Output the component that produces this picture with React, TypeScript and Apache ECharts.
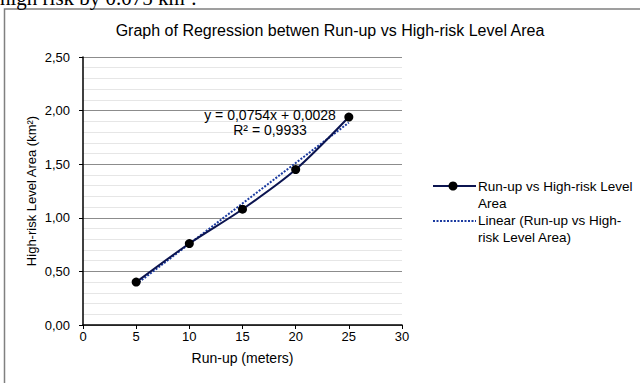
import React, { useEffect, useRef } from "react";
import * as echarts from "echarts";

const runUp = [5, 10, 15, 20, 25];
const area = [0.4, 0.76, 1.08, 1.45, 1.94];
const trendX = [5, 25];
const trendY = [0.38, 1.888];
const yTicks = ["0,00", "0,50", "1,00", "1,50", "2,00", "2,50"];
const titleText = "Graph of Regression betwen Run-up vs High-risk Level Area";
const eqText = "y = 0,0754x + 0,0028";
const r2Text = "R² = 0,9933";
const seriesName = "Run-up vs High-risk Level Area";
const trendName = "Linear (Run-up vs High-risk Level Area)";
const legendLines1 = ["Run-up vs High-risk Level", "Area"];
const legendLines2 = ["Linear (Run-up vs High-", "risk Level Area)"];

export default function App() {
  const ref = useRef<HTMLDivElement>(null);
  useEffect(() => {
    if (!ref.current) return;
    const chart = echarts.init(ref.current, undefined, { renderer: "svg" });
    const font = "Liberation Sans, Arial, sans-serif";
    const navy = "#0b1450";
    const trendColor = "#1a3aa0";
    chart.setOption({
      animation: false,
      backgroundColor: "#ffffff",
      textStyle: { fontFamily: font },
      grid: { left: 83, right: 238, top: 57, bottom: 58, containLabel: false },
      xAxis: {
        type: "value",
        min: 0,
        max: 30,
        interval: 5,
        name: "Run-up (meters)",
        nameLocation: "middle",
        nameGap: 26,
        nameTextStyle: { fontSize: 14, color: "#000", fontFamily: font },
        axisLine: { lineStyle: { color: "#000", width: 1.5 } },
        axisTick: { show: true, inside: false, length: 4, lineStyle: { color: "#000" } },
        axisLabel: { color: "#000", fontSize: 13, margin: 5, fontFamily: font },
        splitLine: { show: false },
      },
      yAxis: {
        type: "value",
        min: 0,
        max: 2.5,
        interval: 0.5,
        name: "High-risk Level Area (km²)",
        nameLocation: "middle",
        nameGap: 45,
        nameRotate: 90,
        nameTextStyle: { fontSize: 13, color: "#000", fontFamily: font },
        axisLine: { show: true, lineStyle: { color: "#000", width: 1.5 } },
        axisTick: { show: true, inside: false, length: 4, lineStyle: { color: "#000" } },
        axisLabel: {
          color: "#000",
          fontSize: 13,
          margin: 13,
          fontFamily: font,
          formatter: (v: number) => yTicks[Math.round(v / 0.5)] ?? "",
        },
        splitLine: { show: true, lineStyle: { color: "#8c8c8c", width: 1 } },
        minorTick: { show: false, splitNumber: 5 },
        minorSplitLine: { show: true, lineStyle: { color: "#e6e6e6", width: 1 } },
      },
      title: {
        text: titleText,
        left: 325,
        textAlign: "center",
        top: 17,
        textStyle: { fontSize: 16, fontWeight: "normal", color: "#000", fontFamily: font },
      },
      graphic: [
        {
          type: "rect",
          shape: { x: 4.5, y: 9, width: 700, height: 400 },
          style: { fill: "none", stroke: "#808080", lineWidth: 1.5 },
          silent: true,
        },
        {
          type: "text",
          left: 0,
          top: -13,
          style: {
            text: "high risk by 0.075 km².",
            font: "21px 'Liberation Serif', 'Times New Roman', serif",
            fill: "#000",
          },
        },
        {
          type: "text",
          x: 270,
          y: 107,
          style: {
            text: eqText + "\n" + r2Text,
            align: "center",
            verticalAlign: "top",
            fontSize: 14,
            lineHeight: 15,
            fontFamily: font,
            fill: "#000",
          },
          z: 10,
        },
        {
          type: "line",
          shape: { x1: 433, y1: 186, x2: 476, y2: 186 },
          style: { stroke: navy, lineWidth: 2 },
        },
        {
          type: "circle",
          shape: { cx: 453, cy: 186, r: 4.5 },
          style: { fill: "#000" },
        },
        {
          type: "text",
          x: 478,
          y: 186,
          style: {
            text: legendLines1.join("\n"),
            verticalAlign: "top",
            fontSize: 13.5,
            lineHeight: 17,
            fontFamily: font,
            fill: "#000",
          },
          y: 178,
        },
        {
          type: "line",
          shape: { x1: 433, y1: 221, x2: 476, y2: 221 },
          style: { stroke: trendColor, lineWidth: 2, lineDash: [2, 1.5] },
        },
        {
          type: "text",
          x: 478,
          y: 212,
          style: {
            text: legendLines2.join("\n"),
            verticalAlign: "top",
            fontSize: 13.5,
            lineHeight: 17,
            fontFamily: font,
            fill: "#000",
          },
        },
      ],
      series: [
        {
          name: trendName,
          type: "line",
          data: trendX.map((x, i) => [x, trendY[i]]),
          showSymbol: false,
          symbol: "none",
          lineStyle: { color: trendColor, width: 2, type: [2, 1.5] },
          itemStyle: { color: trendColor },
          z: 3,
        },
        {
          name: seriesName,
          type: "line",
          data: runUp.map((x, i) => [x, area[i]]),
          smooth: 0.3,
          symbol: "circle",
          symbolSize: 9,
          lineStyle: { color: navy, width: 2 },
          itemStyle: { color: "#000" },
          z: 4,
        },
      ],
    });
    return () => chart.dispose();
  }, []);
  return (
    <div
      ref={ref}
      style={{ position: "fixed", left: 0, top: 0, width: 640, height: 383, background: "#fff" }}
    />
  );
}
